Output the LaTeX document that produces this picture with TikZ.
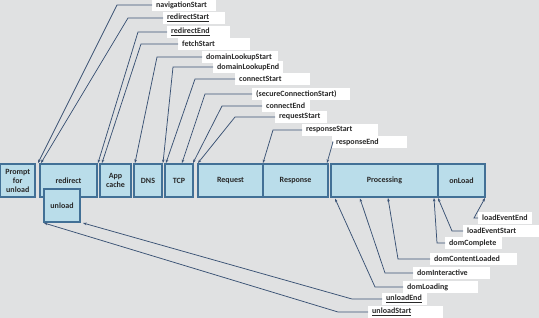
\documentclass[tikz,border=0pt]{standalone}
\usepackage{fontspec}
\setmainfont{Carlito}
\usetikzlibrary{arrows.meta}
\definecolor{bgc}{RGB}{224,225,226}
\definecolor{boxfill}{RGB}{186,221,234}
\definecolor{boxline}{RGB}{66,112,150}
\definecolor{conncol}{RGB}{58,82,116}
\definecolor{txt}{RGB}{40,40,40}
\newcommand\lab[5]{\node[lbl] (#1) at (#2,#3) {\makebox[#4pt][l]{#5}};}
\begin{document}
\begin{tikzpicture}[x=1pt,y=-1pt,
  font=\fontsize{8}{9}\selectfont\bfseries,
  phase/.style={draw=boxline, line width=1.1pt, fill=boxfill, inner sep=0pt,
    align=center, text=txt, minimum height=33pt},
  lbl/.style={fill=white, inner xsep=4pt, inner ysep=0pt, anchor=west,
    minimum height=12pt, text=txt},
  conn/.style={draw=conncol, line width=0.75pt,
    -{Stealth[length=3.5pt,width=2.6pt]}}]
\fill[bgc] (0,0) rectangle (539,318);
\useasboundingbox (0,0) rectangle (539,318);

% phase boxes
\node[phase, minimum width=34.5pt] (prompt) at (17.75,180.5) {Prompt\\for\\unload};
\node[phase, minimum width=57pt] (redirect) at (68.5,180.5) {redirect};
\node[phase, minimum width=36pt] (unload) at (62,205.5) {unload};
\node[phase, minimum width=31pt] (appcache) at (115.5,180.5) {App\\cache};
\node[phase, minimum width=28pt] (dns) at (148,180.5) {DNS};
\node[phase, minimum width=28pt] (tcp) at (179,180.5) {TCP};
\node[phase, minimum width=65pt] (request) at (230.5,180.5) {Request};
\node[phase, minimum width=65pt] (response) at (295.5,180.5) {Response};
\node[phase, minimum width=107pt] (processing) at (384.5,180.5) {Processing};
\node[phase, minimum width=47pt] (onload) at (461.5,180.5) {onLoad};

% labels
\lab{navStart}{152}{5}{56}{navigationStart}
\lab{redStart}{163}{18}{54}{\underline{redirectStart}}
\lab{redEnd}{167}{32}{55}{\underline{redirectEnd}}
\lab{fetch}{178}{44}{64}{fetchStart}
\lab{dlStart}{202}{57}{68}{domainLookupStart}
\lab{dlEnd}{213}{67}{62}{domainLookupEnd}
\lab{cStart}{235}{79}{67}{connectStart}
\lab{secure}{252}{94}{90}{(secureConnectionStart)}
\lab{cEnd}{262}{106}{40}{connectEnd}
\lab{reqStart}{275}{117}{44}{requestStart}
\lab{resStart}{302}{130}{68}{responseStart}
\lab{resEnd}{332}{142}{67}{responseEnd}
\lab{leEnd}{478}{218}{46}{loadEventEnd}
\lab{leStart}{463}{231}{68}{loadEventStart}
\lab{domComp}{445}{243}{49}{domComplete}
\lab{domCL}{430}{259}{79}{domContentLoaded}
\lab{domInt}{413}{273}{69}{domInteractive}
\lab{domLoad}{403}{287}{67}{domLoading}
\lab{ulEnd}{382}{299}{37}{\underline{unloadEnd}}
\lab{ulStart}{368}{312}{67}{\underline{unloadStart}}

% targets
\coordinate (tNav) at (38,163);
\coordinate (tRedS) at (41,163);
\coordinate (tRedE) at (98,163);
\coordinate (tFetch) at (102,163);
\coordinate (tDlS) at (135,163);
\coordinate (tDlE) at (163,163);
\coordinate (tCS) at (166,163);
\coordinate (tSec) at (182,163);
\coordinate (tCE) at (193,163);
\coordinate (tReqS) at (198,163);
\coordinate (tResS) at (263,163);
\coordinate (tResE) at (327,163);
\coordinate (tLeE) at (485,198);
\coordinate (tLeS) at (438,198);
\coordinate (tDomC) at (434,198);
\coordinate (tDomCL) at (388,198);
\coordinate (tDomI) at (360,198.5);
\coordinate (tDomL) at (335,198.5);
\coordinate (tUlE) at (83,223);
\coordinate (tUlS) at (44,223);

% connectors
\draw[conn] (navStart.west) -- ++(-35,0) -- (tNav);
\draw[conn] (redStart.west) -- ++(-35,0) -- (tRedS);
\draw[conn] (redEnd.west) -- ++(-29,0) -- (tRedE);
\draw[conn] (fetch.west) -- ++(-37,0) -- (tFetch);
\draw[conn] (dlStart.west) -- ++(-45,0) -- (tDlS);
\draw[conn] (dlEnd.west) -- ++(-40,0) -- (tDlE);
\draw[conn] (cStart.west) -- ++(-40,0) -- (tCS);
\draw[conn] (secure.west) -- ++(-47,0) -- (tSec);
\draw[conn] (cEnd.west) -- ++(-40,0) -- (tCE);
\draw[conn] (reqStart.west) -- ++(-40,0) -- (tReqS);
\draw[conn] (resStart.west) -- ++(-29,0) -- (tResS);
\draw[conn] (resEnd.west) -- ++(1,0) -- (tResE);
\draw[conn] (leEnd.west) -- ++(-4,0) -- (tLeE);
\draw[conn] (leStart.west) -- ++(-11,0) -- (tLeS);
\draw[conn] (domComp.west) -- ++(-8,0) -- (tDomC);
\draw[conn] (domCL.west) -- ++(-32,0) -- (tDomCL);
\draw[conn] (domInt.west) -- ++(-28,0) -- (tDomI);
\draw[conn] (domLoad.west) -- ++(-28,0) -- (tDomL);
\draw[conn] (ulEnd.west) -- ++(-30,0) -- (tUlE);
\draw[conn] (ulStart.west) -- ++(-30,0) -- (tUlS);
\end{tikzpicture}
\end{document}
